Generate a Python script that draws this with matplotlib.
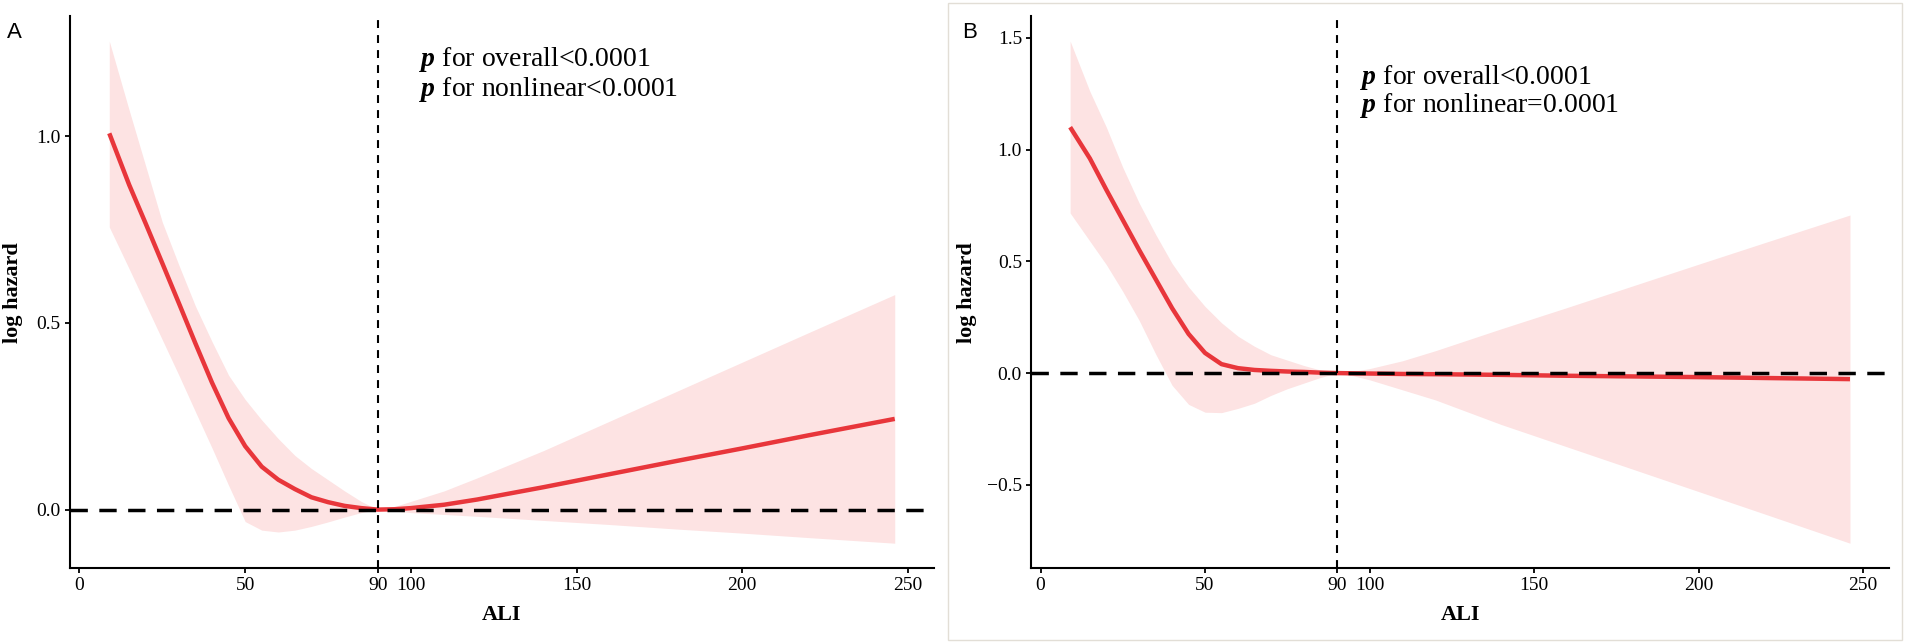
import matplotlib
matplotlib.use("Agg")
import matplotlib.pyplot as plt
from matplotlib.patches import Rectangle

plt.rcParams['font.family'] = ['Liberation Serif', 'DejaVu Serif']
plt.rcParams['mathtext.fontset'] = 'custom'
plt.rcParams['mathtext.rm'] = 'Liberation Serif'
plt.rcParams['mathtext.it'] = 'Liberation Serif:italic'
plt.rcParams['mathtext.bf'] = 'Liberation Serif:bold'
plt.rcParams['mathtext.bfit'] = 'Liberation Serif:italic:bold'

ali = [9, 15, 20, 25, 30, 35, 40, 45, 50, 55, 60, 65, 70, 75, 80, 85, 90,
       95, 100, 110, 120, 140, 160, 180, 200, 220, 246]

# panel A
a_fit = [1.008, 0.87, 0.766, 0.66, 0.553, 0.445, 0.34, 0.245, 0.17, 0.115, 0.08, 0.055, 0.033, 0.02, 0.01, 0.004, 0.0,
         0.001, 0.004, 0.013, 0.027, 0.06, 0.095, 0.13, 0.164, 0.199, 0.243]
a_upper = [1.255, 1.07, 0.92, 0.77, 0.655, 0.545, 0.45, 0.36, 0.295, 0.24, 0.19, 0.145, 0.11, 0.08, 0.05, 0.022, 0.0,
           0.008, 0.022, 0.05, 0.085, 0.158, 0.237, 0.316, 0.395, 0.474, 0.576]
a_lower = [0.757, 0.645, 0.55, 0.455, 0.36, 0.262, 0.165, 0.065, -0.032, -0.055, -0.06, -0.055, -0.045, -0.033, -0.02, -0.008, 0.0,
           -0.004, -0.008, -0.013, -0.018, -0.029, -0.04, -0.052, -0.063, -0.075, -0.09]

# panel B
b_fit = [1.10, 0.96, 0.82, 0.685, 0.55, 0.42, 0.29, 0.175, 0.09, 0.04, 0.022, 0.014, 0.01, 0.007, 0.005, 0.002, 0.0,
         -0.001, -0.002, -0.004, -0.005, -0.008, -0.012, -0.015, -0.018, -0.022, -0.027]
b_upper = [1.485, 1.26, 1.10, 0.92, 0.76, 0.62, 0.49, 0.385, 0.298, 0.225, 0.165, 0.12, 0.082, 0.058, 0.034, 0.014, 0.0,
           0.008, 0.02, 0.055, 0.1, 0.198, 0.293, 0.39, 0.487, 0.583, 0.707]
b_lower = [0.716, 0.59, 0.485, 0.365, 0.235, 0.085, -0.055, -0.14, -0.175, -0.177, -0.158, -0.135, -0.1, -0.07, -0.045, -0.02, 0.0,
           -0.012, -0.03, -0.075, -0.12, -0.23, -0.33, -0.43, -0.53, -0.63, -0.761]

x_ticks = [0, 50, 90, 100, 150, 200, 250]
a_yticks = [0.0, 0.5, 1.0]
b_yticks = [-0.5, 0.0, 0.5, 1.0, 1.5]
cutoff = 90
p_texts_a = ['for overall<0.0001', 'for nonlinear<0.0001']
p_texts_b = ['for overall<0.0001', 'for nonlinear=0.0001']

red = '#e8363b'
band = '#fde3e3'

fig = plt.figure(figsize=(19.06, 6.43), dpi=100)
ax_a = fig.add_axes([0.03673, 0.11617, 0.45331, 0.85894])
ax_b = fig.add_axes([0.5410, 0.11617, 0.45006, 0.85894])


def draw(ax, fit, upper, lower, yticks, texts, text_x, text_y, ylab_x):
    ax.fill_between(ali, lower, upper, color=band, lw=0, zorder=1)
    ax.plot(ali, fit, color=red, lw=3.2, solid_capstyle='butt', solid_joinstyle='round', zorder=2)
    ax.axhline(0, color='black', lw=2.5, ls=(0, (5, 3.3)), zorder=3)
    ax.axvline(cutoff, color='black', lw=1.5, ls=(0, (3.8, 3.4)), zorder=3)

    xr = max(ali) - min(ali)
    ax.set_xlim(min(ali) - 0.05 * xr, max(ali) + 0.05 * xr)
    ymin, ymax = min(lower), max(upper)
    yr = ymax - ymin
    ax.set_ylim(ymin - 0.05 * yr, ymax + 0.05 * yr)

    ax.set_xticks(x_ticks)
    ax.set_yticks(yticks)
    ax.set_yticklabels([f'{v:.1f}'.replace('-', '\u2212') for v in yticks])
    for s in ['top', 'right']:
        ax.spines[s].set_visible(False)
    for s in ['left', 'bottom']:
        ax.spines[s].set_linewidth(1.5)
    ax.tick_params(direction='out', length=3.6, width=1.3, labelsize=14, pad=3, colors='black')

    ax.set_xlabel('ALI', fontsize=16, fontweight='bold')
    ax.xaxis.set_label_coords(0.5, -0.0845)
    ax.xaxis.label.set_va('center')
    ax.set_ylabel('log hazard', fontsize=16, fontweight='bold')
    ax.yaxis.set_label_coords(ylab_x, 0.5)
    ax.yaxis.label.set_va('center')

    for t, y in zip(texts, text_y):
        ax.text(text_x, y, r'$\mathbfit{p}$ ' + t, fontsize=20, va='center', ha='left')


draw(ax_a, a_fit, a_upper, a_lower, a_yticks, p_texts_a, 102.5, [1.205, 1.125], -0.066)
draw(ax_b, b_fit, b_upper, b_lower, b_yticks, p_texts_b, 97.1, [1.322, 1.197], -0.0749)

fig.text(14 / 1906, 1 - 33 / 643, 'A', family='Liberation Sans', fontsize=16, ha='center', va='center')
fig.text(970 / 1906, 1 - 33 / 643, 'B', family='Liberation Sans', fontsize=16, ha='center', va='center')

# faint frame around panel B
fig.patches.append(Rectangle((948 / 1906, 3 / 643), 954 / 1906, 637 / 643, transform=fig.transFigure,
                             fill=False, edgecolor='#e2ded6', lw=1))

fig.savefig('out.png', dpi=100)
